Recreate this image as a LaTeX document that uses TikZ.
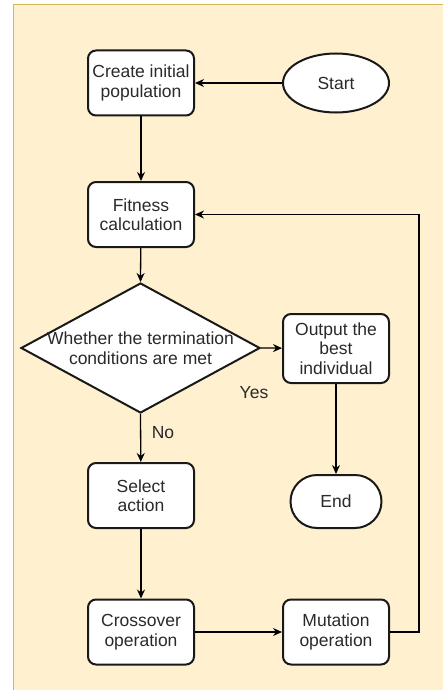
\documentclass[tikz,border=0pt]{standalone}
\usepackage{fontspec}
\setmainfont{Liberation Sans}
\usetikzlibrary{arrows.meta,shapes.geometric,shapes.misc}
\definecolor{bgfill}{HTML}{FFF0CF}
\definecolor{bgline}{HTML}{D6B656}
\definecolor{txtc}{HTML}{2A2A2A}
\tikzset{
  procbox/.style={draw=black!90, line width=2pt, fill=white, rounded corners=8pt,
    minimum width=106pt, minimum height=65pt, inner sep=0pt, align=center,
    font=\fontsize{17.5}{19.5}\selectfont, text=txtc},
  startshape/.style={draw=black!90, line width=2pt, fill=white, ellipse,
    minimum width=106pt, minimum height=59pt, inner sep=0pt,
    font=\fontsize{17.5}{19.5}\selectfont, text=txtc},
  endshape/.style={draw=black!90, line width=2pt, fill=white, rounded rectangle,
    minimum width=91pt, minimum height=53pt, inner sep=0pt,
    font=\fontsize{17.5}{19.5}\selectfont, text=txtc},
  decision/.style={draw=black!90, line width=2pt, fill=white, diamond,
    minimum width=239pt, minimum height=130pt, inner sep=0pt},
  plaintext/.style={align=center, inner sep=0pt,
    font=\fontsize{17.5}{19.5}\selectfont, text=txtc},
  flow/.style={draw=black, line width=1.3pt, -{Stealth[length=9pt,width=8pt]}},
}
\begin{document}
\begin{tikzpicture}[x=1pt,y=-1pt]
\useasboundingbox (0,0) rectangle (442,690);
\fill[white] (0,0) rectangle (442,690);
\path[fill=bgfill, draw=bgline, line width=0.8pt] (13,4) rectangle (443,691);

\node[procbox] (create) at (141,83) {Create initial\\population};
\node[startshape] (start) at (336,83) {Start};
\node[procbox] (fit) at (141,214.5) {Fitness\\calculation};
\node[decision] (dec) at (140.5,348) {};
\node[plaintext] (dectxt) at (140.5,348) {Whether the termination\\conditions are met};
\node[procbox, minimum height=69pt] (out) at (336,348.5) {Output the\\best\\individual};
\node[procbox] (sel) at (141,495.5) {Select\\action};
\node[endshape] (end) at (336,501.5) {End};
\node[procbox] (cross) at (141,632) {Crossover\\operation};
\node[procbox] (mut) at (336,632) {Mutation\\operation};

\node[plaintext] (yes) at (254,393) {Yes};
\node[plaintext] (no) at (163,433) {No};

\coordinate (c1) at (419,632);
\coordinate (c2) at (419,214.5);

\draw[flow] (start) -- (create);
\draw[flow] (create) -- (fit);
\draw[flow] (fit) -- (dec.north);
\draw[flow] (dec.east) -- (out);
\draw[flow] (dec.south) -- (sel);
\draw[flow] (out) -- (end);
\draw[flow] (sel) -- (cross);
\draw[flow] (cross) -- (mut);
\draw[flow] (mut.east) -- (c1) -- (c2) -- (fit.east);
\end{tikzpicture}
\end{document}
